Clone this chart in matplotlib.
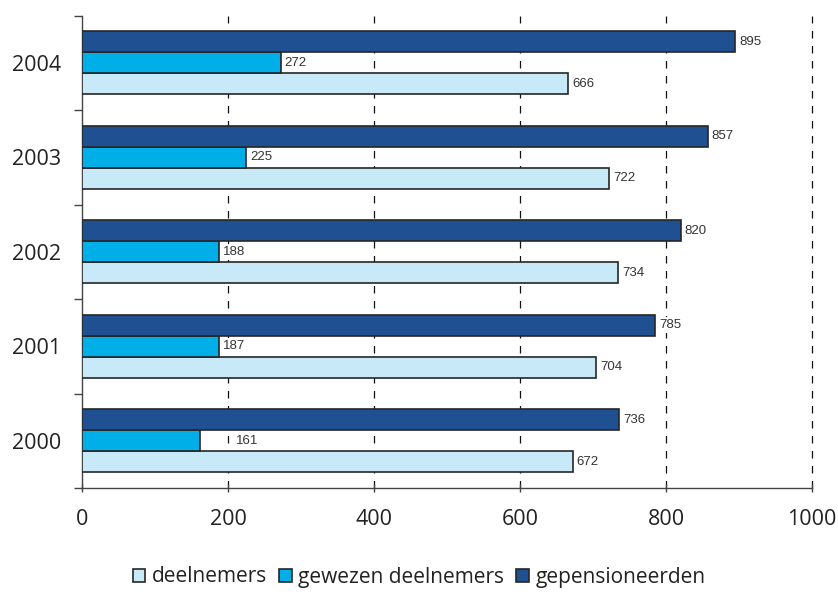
import matplotlib
matplotlib.use("Agg")
import matplotlib.pyplot as plt
import numpy as np
from matplotlib.patches import Patch

years = ["2000", "2001", "2002", "2003", "2004"]
deelnemers = [672, 704, 734, 722, 666]
gewezen = [161, 187, 188, 225, 272]
gepensioneerd = [736, 785, 820, 857, 895]
series_names = ["deelnemers", "gewezen deelnemers", "gepensioneerden"]
x_ticks = [0, 200, 400, 600, 800, 1000]

colors = ["#C8E9F8", "#00AEE8", "#1F5092"]
edge = "#262626"

plt.rcParams["font.family"] = ["Open Sans", "DejaVu Sans"]

fig = plt.figure(figsize=(8.38, 5.94), dpi=100)
ax = fig.add_axes([82 / 838, 1 - 488 / 594, 730 / 838, 472.5 / 594])

y = np.arange(len(years))
h = 2 / 9
series = [deelnemers, gewezen, gepensioneerd]
for i, (vals, col) in enumerate(zip(series, colors)):
    pos = y + (i - 1) * h
    ax.barh(pos, vals, height=h, color=col, edgecolor=edge, linewidth=1.2, zorder=3)
    for yy, v in zip(pos, vals):
        # the 161 label sits further out in the original
        off = 36 if v == 161 else 4
        ax.annotate(str(v), (v, yy), xytext=(off, 0), textcoords="offset pixels",
                    ha="left", va="center", fontsize=9.5, family="Liberation Sans",
                    color="#333333", zorder=4,
                    bbox=dict(boxstyle="square,pad=0.15", fc="white", ec="none"))

ax.set_xlim(0, 1000)
ax.set_ylim(-0.5, len(years) - 0.5)
ax.set_xticks(x_ticks)
ax.set_xticklabels([str(t) for t in x_ticks], fontsize=15.5, color="#222222")
ax.set_yticks(y)
ax.set_yticklabels(years, fontsize=15.5, color="#222222")
ax.set_yticks(np.arange(len(years) + 1) - 0.5, minor=True)
ax.tick_params(axis="y", which="major", length=0, pad=15)
ax.tick_params(axis="y", which="minor", length=6, width=1, color="#444444")
ax.tick_params(axis="x", which="major", length=6, width=1, color="#444444",
               direction="inout", pad=12)

for gx in x_ticks[1:]:
    ax.axvline(gx, color="#111111", linestyle=(0, (6, 6)), linewidth=0.9,
               zorder=1, clip_on=False)

for s in ["top", "right"]:
    ax.spines[s].set_visible(False)
for s in ["left", "bottom"]:
    ax.spines[s].set_color("#444444")
    ax.spines[s].set_linewidth(1)

handles = [Patch(facecolor=c, edgecolor=edge, linewidth=1.2) for c in colors]
fig.legend(handles, series_names, loc="center", bbox_to_anchor=(0.5, 1 - 577 / 594),
           ncol=3, frameon=False, fontsize=15, handlelength=0.6, handleheight=0.6,
           handletextpad=0.3, columnspacing=0.6, labelcolor="#222222")

fig.savefig("out.png", dpi=100)
